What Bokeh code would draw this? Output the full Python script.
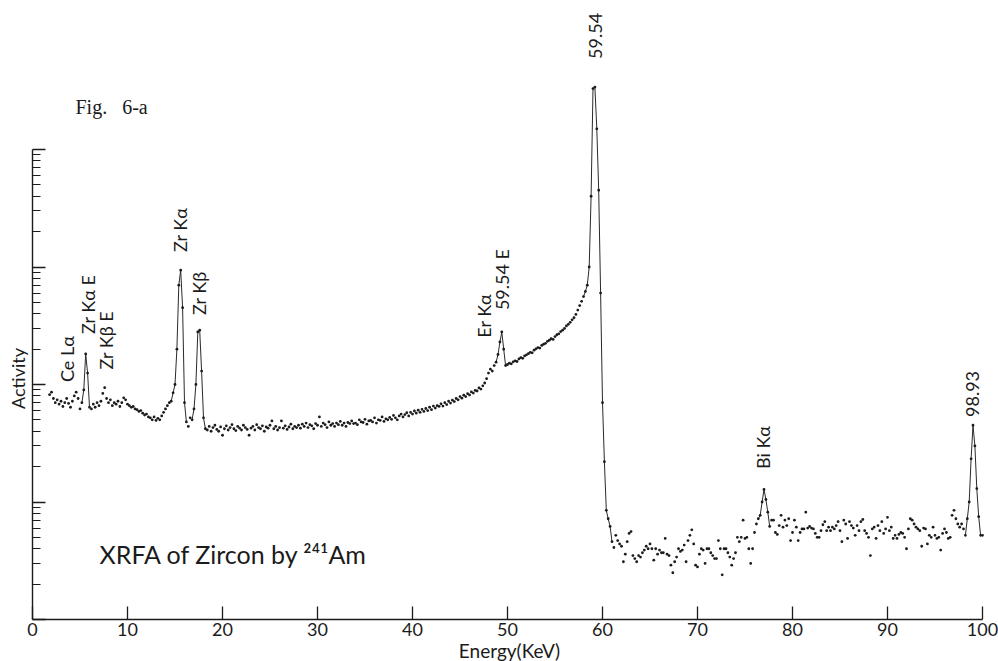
import numpy as np
from bokeh.plotting import figure
from bokeh.models import Range1d, FixedTicker, Label, ColumnDataSource
from bokeh.embed import file_html
from bokeh.resources import INLINE
from bokeh.core.properties import value

# ---------------- data (energy channels every 0.2 keV, counts) -------------
seg_a_start = 1.8
seg_a = [820, 860, 760, 700, 740, 680, 720, 650, 700, 760,
         690, 640, 720, 800, 860, 760, 620, 700, 900, 1820,
         1250, 640, 620, 680, 640, 700, 660, 720, 840, 940,
         760, 700, 740, 660, 700, 680, 720, 650, 700, 770,
         740]
seg_b_start = 10.0
seg_b = [680, 660, 640, 650, 620, 610, 590, 600, 570, 550,
         560, 530, 520, 500, 530, 495, 515, 500, 540, 580,
         620, 660, 700, 720, 850, 1000, 2000, 7000, 9400, 4500,
         700, 480, 440, 520, 500, 620, 1000, 2800, 2900, 1300,
         520, 420]
seg_c_start = 18.4
seg_c = [410, 440, 400, 430, 450, 415, 400, 435, 370, 420,
         445, 410, 430, 455, 420, 405, 440, 425, 410, 450,
         430, 415, 370, 425, 440, 410, 455, 430, 420, 445,
         400, 435, 425, 450, 490, 420, 440, 410, 430, 490,
         425, 445, 415, 435, 460, 420, 440, 430, 450]
seg_d_start = 28.2
seg_d = [425, 460, 440, 470, 430, 455, 445, 420, 465, 450,
         530, 440, 470, 455, 430, 480, 450, 465, 440, 470,
         455, 485, 450, 470, 440, 475, 465]
seg_e_start = 33.6
seg_e = [490, 465, 470, 455, 500, 480, 475, 505, 460, 490,
         495, 480, 520, 470, 500, 495, 530, 485, 510, 500,
         525, 505, 545, 520, 500, 540]
seg_f_start = 38.8
seg_f = [560, 530, 555, 575, 540, 580, 560, 595, 570, 605,
         580, 615, 590, 625, 600, 640, 610, 655, 630, 660,
         650, 685, 655, 700, 675, 720, 695]
seg_g_start = 44.2
seg_g = [735, 715, 760, 740, 790, 765, 810, 790, 835, 815,
         865, 845, 890, 880, 935, 915, 975, 1030, 1120]
seg_h_start = 48.0
seg_h = [1250, 1350, 1300, 1450, 1550, 1800, 2300, 2800, 2000, 1450,
         1480, 1520, 1500, 1560, 1590, 1570, 1650, 1690, 1670, 1750,
         1790, 1830, 1880, 1860, 1960, 2010, 2060, 2040, 2150, 2200,
         2240, 2330, 2380, 2450, 2420, 2560, 2650, 2700, 2820, 2900,
         3000, 3150, 3250, 3380, 3550, 3700, 3950, 4300, 4700, 5100,
         5600, 6200, 7000, 10000, 40000, 330000, 340000, 150000, 45000, 6000,
         700, 220, 85, 72, 62]
seg_i_start = 61.0
seg_i = [46, 41, 52, 47, 44, 42, 31, 36, 46, 54,
         56, 35, 33, 31, 35, 34, 37, 39, 42, 40,
         44, 40, 32, 40, 36, 39, 37, 37, 49, 36,
         35, 29, 25, 31, 34, 40, 38, 39, 43, 31,
         47, 52, 58, 44, 29, 28, 36, 40, 39, 30,
         40, 40, 37, 35, 33, 33, 47, 40, 24, 40,
         40, 37, 34, 29, 33, 37, 50, 46, 50, 70,
         49, 50, 40, 30, 40, 55, 65, 72, 77, 100,
         128]
seg_j_start = 77.2
seg_j = [105, 82, 62, 70, 70, 55, 53, 63, 77, 61,
         70, 63, 72, 47, 55, 70, 61, 47, 55, 59,
         59, 82, 60, 62, 60, 59, 54, 50, 50, 57,
         64, 68, 57, 61, 57, 61, 59, 63, 68, 57,
         46, 70, 65, 49, 68, 63, 60, 52, 63, 57,
         68, 71, 57, 54, 50, 35, 59, 61, 49, 63,
         57, 68, 54, 59, 74, 57, 61, 49, 52, 49,
         53, 55, 54, 50, 40, 59, 72, 70, 65, 61,
         59, 57, 42, 60, 59, 44, 52, 50, 61, 52,
         49, 50, 39, 54, 59, 55, 49, 50, 77, 85,
         72, 65, 61, 65, 59, 52, 72, 100, 233, 450,
         300, 130, 75, 52, 52]
channel_step = 0.2

# energy windows where the plotted dots are joined by a line (peaks)
peak_windows = [(5.2, 6.0), (14.6, 16.2), (16.8, 18.2), (48.8, 50.0),
                (58.0, 61.0), (76.4, 77.6), (98.2, 99.8)]

# peak annotations: text, energy (keV), count level where the text starts
peak_labels = ["Ce Lα", "Zr Kα E", "Zr Kβ E", "Zr Kα", "Zr Kβ",
               "Er Kα", "59.54 E", "59.54", "Bi Kα", "98.93"]
peak_label_energy = [3.65, 5.86, 7.76, 15.55, 17.55, 47.55, 49.44, 59.23, 76.92, 98.92]
peak_label_level = [1050, 2690, 1340, 13400, 3900, 2500, 4300, 590000, 191, 529]

x_ticks = [0, 10, 20, 30, 40, 50, 60, 70, 80, 90, 100]
x_bounds = (0, 100)
y_decades = [10, 100, 1000, 10000, 100000]

# ---------------- build arrays -------------
segments = [(seg_a_start, seg_a), (seg_b_start, seg_b), (seg_c_start, seg_c),
            (seg_d_start, seg_d), (seg_e_start, seg_e), (seg_f_start, seg_f),
            (seg_g_start, seg_g), (seg_h_start, seg_h), (seg_i_start, seg_i),
            (seg_j_start, seg_j)]
E = np.concatenate([np.round(s + channel_step * np.arange(len(v)), 2) for s, v in segments])
C = np.concatenate([np.asarray(v, dtype=float) for s, v in segments])

# ---------------- layout -------------
W, H = 998, 661
AXIS_X0_PX = 32          # canvas x of energy 0
AXIS_X1_PX = 982         # canvas x of energy 100
AXIS_Y0_PX = 619         # canvas y of the energy axis
decade_px = 117.5
px_per_kev = (AXIS_X1_PX - AXIS_X0_PX) / (x_bounds[1] - x_bounds[0])
xmin = x_bounds[0] - AXIS_X0_PX / px_per_kev
xmax = x_bounds[1] + (W - AXIS_X1_PX) / px_per_kev
y_base = y_decades[0]
ymin = y_base * 10 ** (-(H - AXIS_Y0_PX) / decade_px)
ymax = y_base * 10 ** (AXIS_Y0_PX / decade_px)


def at(px, py):
    """canvas pixel position -> data coordinates (for placing free texts)"""
    x = xmin + px / px_per_kev
    y = y_base * 10 ** ((AXIS_Y0_PX - py) / decade_px)
    return x, y


FONT = "Lato"
INK = "#1b1b1b"

p = figure(width=W, height=H, x_range=Range1d(xmin, xmax), y_range=Range1d(ymin, ymax),
           y_axis_type="log", output_backend="svg", toolbar_location=None,
           min_border_left=0, min_border_right=0,
           min_border_top=0, min_border_bottom=0)
p.background_fill_color = "white"
p.border_fill_color = "white"
p.outline_line_color = None
p.grid.visible = False

xa = p.xaxis[0]
xa.ticker = FixedTicker(ticks=x_ticks, minor_ticks=[])
xa.bounds = x_bounds
xa.fixed_location = y_base
xa.major_tick_in = 13
xa.major_tick_out = 0
xa.minor_tick_in = 0
xa.minor_tick_out = 0
xa.axis_line_width = 1.4
xa.axis_line_color = INK
xa.major_tick_line_color = INK
xa.major_tick_line_width = 1.3
xa.major_label_text_font = FONT
xa.major_label_text_font_size = "18px"
xa.major_label_text_color = INK
xa.major_label_standoff = 3

ya = p.yaxis[0]
minor = [m * d for d in y_decades[:-1] for m in range(2, 10)]
ya.ticker = FixedTicker(ticks=y_decades, minor_ticks=minor)
ya.bounds = (y_decades[0], y_decades[-1])
ya.fixed_location = x_bounds[0]
ya.major_tick_in = 13
ya.major_tick_out = 0
ya.minor_tick_in = 8
ya.minor_tick_out = 0
ya.axis_line_width = 1.4
ya.axis_line_color = INK
ya.major_tick_line_color = INK
ya.minor_tick_line_color = INK
ya.major_tick_line_width = 1.3
ya.minor_tick_line_width = 1.2
ya.major_label_text_font_size = "1px"
ya.major_label_text_color = None
ya.major_label_standoff = 0

# joined peak segments
for a, b in peak_windows:
    m = (E >= a - 1e-6) & (E <= b + 1e-6)
    p.line(E[m], C[m], line_color="#2a2a2a", line_width=1.0)

# measured points
src = ColumnDataSource(dict(E=E, C=C))
p.scatter("E", "C", source=src, size=2.8, color=INK, line_color=None)

# peak labels (rotated, reading upward)
lab = ColumnDataSource(dict(x=peak_label_energy, y=peak_label_level, t=peak_labels))
p.text("x", "y", text="t", source=lab, angle=np.pi / 2, text_align="left",
       text_baseline="middle", text_font=value(FONT), text_font_size="18px",
       text_color=INK)

# free texts
tx, ty = at(99, 553)
p.add_layout(Label(x=tx, y=ty, text="XRFA of Zircon by ²⁴¹Am", text_font=FONT,
                   text_font_size="25px", text_color=INK, text_baseline="alphabetic"))
tx, ty = at(75, 106)
p.add_layout(Label(x=tx, y=ty, text="Fig.\u2002 6-a", text_font="Liberation Serif",
                   text_font_size="20px", text_color=INK, text_baseline="alphabetic"))
tx, ty = at(17, 378)
p.add_layout(Label(x=tx, y=ty, text="Activity", text_font=FONT, angle=np.pi / 2,
                   text_font_size="18px", text_color=INK,
                   text_align="center", text_baseline="middle"))
tx, ty = at(509, 650)
p.add_layout(Label(x=tx, y=ty, text="Energy(KeV)", text_font=FONT,
                   text_font_size="19px", text_color=INK,
                   text_align="center", text_baseline="middle"))

open("out.html", "w").write(file_html(p, INLINE))
